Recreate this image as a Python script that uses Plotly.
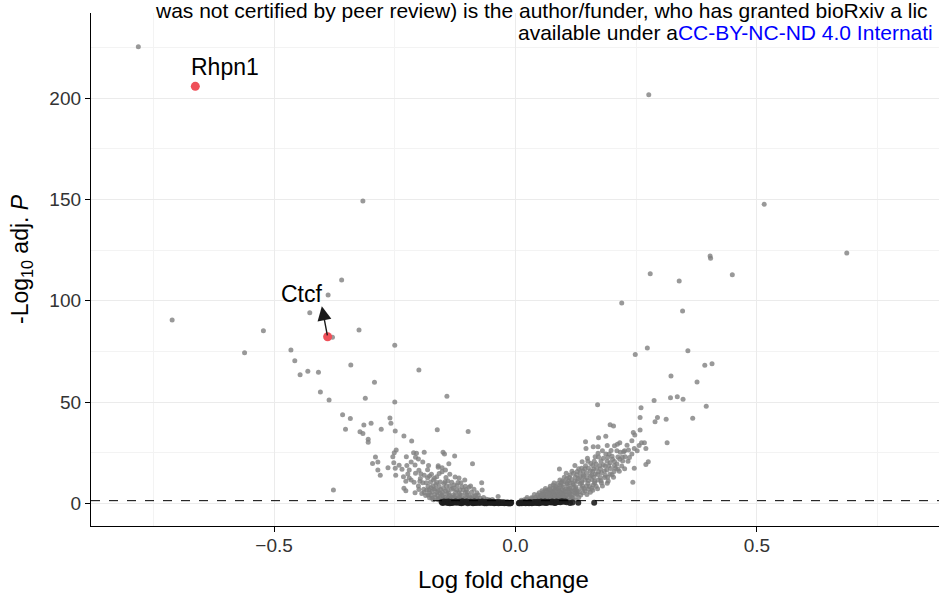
import plotly.graph_objects as go

# Significant genes (padj < 0.05): log fold change and -log10 adjusted P
lfc_sig = [
    -0.781, -0.316, -0.360, -0.388, -0.426, -0.711, -0.522, -0.324, -0.379, -0.250,
    -0.465, -0.561, -0.457, -0.341, -0.200, -0.430, -0.408, -0.446, -0.292, -0.404,
    -0.142, -0.311, -0.386, -0.250, -0.358, -0.260, -0.342, -0.258, -0.314, -0.299,
    -0.352, -0.278, -0.322, -0.316, -0.249, -0.162, -0.098, -0.305, -0.305, -0.231,
    -0.215, -0.247, -0.251, -0.211, -0.205, -0.189, -0.150, -0.147, -0.254, -0.226,
    -0.207, -0.201, -0.126, -0.290, -0.296, -0.285, -0.252, -0.216, -0.192, -0.138,
    -0.089, -0.264, -0.249, -0.285, -0.235, -0.160, -0.152, -0.280, -0.248, -0.232,
    -0.207, -0.189, -0.178, -0.163, -0.152, -0.125, -0.105, -0.070, -0.227, -0.216,
    -0.198, -0.185, -0.170, -0.156, -0.140, -0.231, -0.227, -0.208, -0.377, -0.190,
    -0.175, -0.166, -0.149, -0.129, -0.122, -0.108, -0.096, -0.069, -0.194, -0.181,
    -0.167, -0.156, -0.142, -0.129, -0.115, -0.101, -0.087, -0.073, -0.036, -0.173,
    -0.160, -0.136, -0.122, -0.108, -0.060, -0.184, -0.173, -0.160, -0.145, -0.136,
    -0.127, -0.111, -0.150, -0.133, -0.118, -0.095, -0.082, -0.145, -0.112, -0.165,
    -0.148, -0.119, -0.100, -0.090, -0.048,
    -0.170, -0.160, -0.151, -0.141, -0.132, -0.123, -0.114, -0.105, -0.097, -0.088,
    -0.078, -0.068, -0.055,
    -0.178, -0.167, -0.157, -0.146, -0.139, -0.127, -0.116, -0.103, -0.091, -0.080, -0.066,
    -0.186, -0.175, -0.161, -0.152, -0.137, -0.125, -0.111, -0.097, -0.083, -0.077,
    -0.189, -0.178, -0.163, -0.151, -0.138, -0.124, -0.117, -0.104, -0.091, -0.080,
    -0.200, -0.179, -0.169, -0.155, -0.140, -0.132, -0.115, -0.102, -0.086,
    -0.201, -0.181, -0.171, -0.158, -0.143, -0.121, -0.104, -0.093,
    -0.210, -0.192, -0.176, -0.163, -0.146, -0.132, -0.113,
    -0.220, -0.197, -0.182, -0.168, -0.144, -0.117,
    -0.223, -0.196, -0.174, -0.158, -0.136,
    -0.220, -0.200, -0.182, -0.145,
    -0.241, -0.225, -0.208, -0.180, -0.160,
    0.276, 0.515, 0.686, 0.403, 0.404, 0.279, 0.449, 0.339, 0.220, 0.346,
    0.273, 0.357, 0.248, 0.407, 0.392, 0.322, 0.376, 0.335, 0.321, 0.347,
    0.287, 0.170, 0.395, 0.260, 0.294, 0.258, 0.367, 0.312, 0.289, 0.258,
    0.196, 0.203, 0.244, 0.247, 0.172, 0.187, 0.261, 0.267, 0.314, 0.145,
    0.241, 0.211, 0.216, 0.161, 0.171, 0.146, 0.270, 0.234, 0.246, 0.217,
    0.224, 0.171, 0.187, 0.194, 0.241, 0.227, 0.149, 0.165, 0.182, 0.201,
    0.216, 0.156, 0.167, 0.196, 0.210, 0.275, 0.270, 0.123, 0.137, 0.151,
    0.168, 0.189, 0.207, 0.246, 0.091, 0.105, 0.120, 0.134, 0.147, 0.165,
    0.178, 0.196, 0.092, 0.106, 0.116, 0.130, 0.144, 0.158, 0.171, 0.243,
    0.078, 0.092, 0.106, 0.120, 0.134, 0.147, 0.161, 0.068, 0.082, 0.096,
    0.109, 0.123, 0.137, 0.151, 0.058, 0.071, 0.085, 0.099, 0.113, 0.127,
    0.047, 0.061, 0.075, 0.089, 0.102, 0.116, 0.040, 0.054, 0.068, 0.082,
    0.096, 0.030, 0.012, 0.100, 0.113, 0.128, 0.140, 0.155, 0.185, 0.064,
    0.077, 0.090, 0.104, 0.118, 0.132, 0.052, 0.066, 0.080, 0.094, 0.108,
    0.035, 0.022, 0.059, 0.073, 0.087, 0.104, 0.120, 0.099, 0.085, 0.175,
    0.182, 0.200, 0.210, 0.138, 0.155,
    0.018, 0.027, 0.036, 0.045, 0.053, 0.062, 0.071, 0.079, 0.088, 0.097, 0.106, 0.115, 0.124,
    0.024, 0.033, 0.041, 0.050, 0.058, 0.067, 0.076, 0.084, 0.093, 0.101, 0.110, 0.119, 0.131,
    0.039, 0.046, 0.055, 0.063, 0.072, 0.081, 0.089, 0.098, 0.106, 0.117, 0.126, 0.135, 0.148,
    0.049, 0.057, 0.069, 0.078, 0.087, 0.095, 0.111, 0.123, 0.140, 0.155,
    0.055, 0.063, 0.073, 0.080, 0.091, 0.101, 0.114, 0.128, 0.144, 0.160,
    0.062, 0.071, 0.079, 0.089, 0.104, 0.112, 0.126, 0.142, 0.158, 0.170,
    0.072, 0.083, 0.095, 0.110, 0.125, 0.139, 0.153, 0.167, 0.180,
    0.080, 0.088, 0.095, 0.107, 0.119, 0.137, 0.150, 0.164, 0.178, 0.190,
    0.097, 0.110, 0.123, 0.137, 0.151, 0.164, 0.177, 0.192,
    0.101, 0.111, 0.124, 0.134, 0.148, 0.162, 0.176, 0.191, 0.203,
    0.113, 0.127, 0.141, 0.158, 0.170, 0.186, 0.200,
    0.117, 0.128, 0.140, 0.160, 0.172, 0.184, 0.204, 0.215,
    0.131, 0.144, 0.162, 0.176, 0.197, 0.212, 0.226,
    0.145, 0.160, 0.186, 0.193, 0.205, 0.220,
    0.150, 0.163, 0.177, 0.190, 0.205, 0.222, 0.233,
    0.172, 0.191, 0.212, 0.221, 0.236,
    0.180, 0.198, 0.226, 0.252,
    0.190, 0.205, 0.231, 0.256,
]
padj_sig = [
    225.4, 149.2, 110.2, 102.8, 94.1, 90.5, 85.2, 85.5, 81.9, 78.0,
    75.7, 74.3, 70.4, 68.3, 65.8, 65.2, 64.7, 63.5, 59.7, 54.9,
    52.8, 51.8, 51.0, 50.0, 43.7, 42.1, 41.8, 39.5, 38.6, 39.5,
    36.5, 36.5, 35.3, 34.5, 35.7, 36.3, 35.5, 31.6, 30.1, 33.2,
    30.8, 26.3, 25.0, 25.0, 24.7, 25.2, 25.2, 24.3, 23.0, 23.0,
    22.7, 21.9, 23.3, 22.9, 19.7, 20.4, 20.0, 20.4, 20.4, 19.5,
    19.5, 17.6, 17.3, 16.4, 16.8, 17.8, 17.6, 13.8, 13.8, 13.1,
    14.8, 13.8, 13.5, 13.1, 15.6, 13.0, 11.5, 10.2, 10.9, 11.5,
    10.9, 10.2, 11.5, 10.5, 11.0, 7.4, 6.2, 5.2, 6.6, 6.9,
    7.7, 7.2, 7.4, 7.4, 6.6, 6.6, 7.9, 6.6, 4.9, 4.1,
    4.4, 4.9, 4.6, 4.1, 4.4, 4.1, 3.6, 2.5, 3.3, 2.5,
    2.3, 2.3, 2.3, 2.1, 2.0, 6.6, 5.7, 6.2, 6.1, 8.5,
    9.0, 8.2, 3.2, 3.0, 3.1, 2.8, 1.9, 1.8, 1.7, 9.3,
    9.8, 10.3, 5.6, 1.6, 1.9,
    1.8, 1.7, 1.9, 1.8, 1.6, 1.9, 1.7, 1.8, 1.9, 1.7,
    1.8, 1.6, 1.7,
    2.8, 2.9, 2.7, 2.9, 2.8, 3.0, 2.7, 2.9, 2.8, 2.6, 2.9,
    3.9, 4.0, 3.8, 4.1, 3.9, 3.7, 4.0, 3.9, 3.8, 4.1,
    5.3, 5.2, 5.4, 5.3, 5.1, 5.4, 5.2, 5.3, 5.5, 5.2,
    6.8, 6.7, 6.9, 6.8, 6.6, 6.9, 6.7, 6.8, 6.9,
    8.5, 8.4, 8.6, 8.3, 8.5, 8.7, 8.4, 8.6,
    10.4, 10.2, 10.5, 10.3, 10.6, 10.4, 10.2,
    12.5, 12.3, 12.6, 12.4, 12.7, 12.5,
    14.5, 14.6, 14.3, 14.7, 14.4,
    16.5, 16.3, 16.6, 16.4,
    18.8, 18.6, 18.9, 18.7, 18.5,
    201.7, 147.6, 123.5, 122.1, 120.9, 113.3, 112.8, 109.7, 98.9, 94.9,
    76.7, 75.3, 73.5, 68.9, 68.1, 62.8, 59.9, 52.6, 52.1, 51.3,
    50.8, 48.7, 47.9, 47.2, 42.4, 42.3, 42.0, 41.5, 40.3, 36.2,
    38.8, 38.2, 34.9, 33.7, 32.4, 33.1, 29.9, 29.9, 29.9, 30.4,
    30.9, 29.1, 29.9, 27.9, 27.9, 27.1, 27.0, 26.3, 27.0, 25.2,
    25.5, 24.7, 24.3, 24.3, 24.3, 23.0, 22.2, 23.0, 22.2, 21.7,
    21.7, 19.7, 19.4, 20.0, 19.4, 20.5, 19.2, 18.6, 17.3, 17.3,
    17.3, 16.4, 17.3, 17.3, 16.9, 14.8, 14.8, 15.1, 14.8, 14.5,
    15.1, 14.5, 11.5, 12.3, 11.8, 12.3, 11.5, 11.8, 11.5, 10.4,
    9.0, 9.0, 9.5, 9.0, 9.5, 8.5, 9.0, 6.6, 6.9, 6.6,
    6.9, 6.6, 7.4, 6.9, 4.6, 4.9, 4.6, 4.9, 4.6, 4.9,
    3.0, 3.3, 3.0, 3.3, 3.0, 3.0, 2.1, 2.1, 2.0, 2.0,
    2.1, 1.6, 1.5, 10.6, 10.1, 10.8, 13.2, 13.6, 12.7, 5.8,
    5.5, 5.9, 5.7, 5.9, 5.7, 3.9, 4.0, 3.9, 4.0, 4.1,
    2.6, 1.9, 2.6, 2.6, 2.7, 2.4, 7.8, 8.0, 7.8, 18.7,
    19.0, 23.2, 25.9, 20.5, 16.0,
    1.8, 1.7, 1.9, 1.8, 1.6, 1.9, 1.7, 1.8, 1.9, 1.7, 1.8, 1.9, 1.7,
    2.9, 2.8, 3.0, 2.9, 2.7, 3.0, 2.8, 2.9, 3.0, 2.8, 2.9, 2.7, 2.9,
    4.3, 4.2, 4.4, 4.3, 4.1, 4.4, 4.2, 4.3, 4.4, 4.2, 4.3, 4.1, 4.4,
    5.2, 5.3, 5.1, 5.2, 5.4, 5.2, 5.3, 5.1, 5.2, 5.4,
    6.2, 6.3, 6.1, 6.2, 6.4, 6.2, 6.3, 6.1, 6.2, 6.4,
    7.3, 7.2, 7.4, 7.3, 7.1, 7.4, 7.2, 7.3, 7.4, 7.2,
    8.4, 8.3, 8.5, 8.4, 8.2, 8.5, 8.3, 8.4, 8.5,
    10.0, 9.9, 10.1, 10.0, 9.8, 10.1, 9.9, 10.0, 10.1, 9.9,
    11.0, 11.1, 10.9, 11.0, 11.2, 10.9, 11.1, 11.0,
    12.8, 12.7, 12.9, 12.8, 12.6, 12.9, 12.7, 12.8, 12.9,
    14.0, 14.1, 13.9, 14.0, 14.2, 13.9, 14.1,
    15.8, 15.7, 15.9, 15.8, 15.6, 15.9, 15.7, 15.8,
    17.0, 17.1, 16.9, 17.0, 17.2, 16.9, 17.1,
    18.5, 18.6, 18.4, 18.5, 18.7, 18.4,
    20.8, 20.7, 20.9, 20.8, 20.6, 20.9, 20.7,
    22.8, 22.7, 22.9, 22.8, 22.6,
    26.0, 26.1, 25.9, 26.0,
    28.5, 28.4, 28.6, 28.5,
]

# Non-significant genes
lfc_ns = [
    -0.153, -0.149, -0.146, -0.141, -0.138, -0.134, -0.131, -0.127, -0.122, -0.119,
    -0.115, -0.111, -0.108, -0.103, -0.099, -0.096, -0.091, -0.087, -0.084, -0.079,
    -0.075, -0.072, -0.067, -0.063, -0.060, -0.055, -0.051, -0.047, -0.043, -0.040,
    -0.035, -0.031, -0.027, -0.023, -0.019, -0.016, -0.013, -0.011, -0.010,
    -0.151, -0.143, -0.136, -0.129, -0.118, -0.112, -0.105, -0.094, -0.088, -0.081,
    -0.070, -0.064, -0.058, -0.049, -0.044, -0.037, -0.029, -0.021, -0.014, -0.012,
    -0.148, -0.139, -0.133, -0.124, -0.116, -0.110, -0.101, -0.093, -0.085, -0.077,
    -0.069, -0.061, -0.053, -0.045, -0.038, -0.033, -0.025, -0.017, -0.009,
    0.007, 0.009, 0.013, 0.017, 0.021, 0.024, 0.028, 0.032, 0.036, 0.040,
    0.044, 0.047, 0.051, 0.055, 0.059, 0.062, 0.066, 0.070, 0.074, 0.078,
    0.083, 0.088, 0.093, 0.099, 0.106, 0.130, 0.163,
    0.008, 0.015, 0.026, 0.034, 0.042, 0.049, 0.057, 0.064, 0.072, 0.081, 0.091,
    0.011, 0.019, 0.030, 0.038, 0.046, 0.053, 0.061, 0.068, 0.076, 0.085, 0.096, 0.103,
    0.113, 0.118,
]
padj_ns = [
    0.62, 0.35, 0.48, 0.20, 0.55, 0.31, 0.12, 0.44, 0.27, 0.58,
    0.15, 0.39, 0.22, 0.50, 0.09, 0.33, 0.46, 0.18, 0.28, 0.53,
    0.11, 0.37, 0.24, 0.41, 0.07, 0.30, 0.19, 0.36, 0.13, 0.26,
    0.08, 0.21, 0.15, 0.06, 0.12, 0.04, 0.09, 0.03, 0.05,
    0.15, 0.72, 0.05, 0.66, 0.70, 0.08, 0.61, 0.64, 0.04, 0.12,
    0.57, 0.03, 0.49, 0.54, 0.02, 0.40, 0.34, 0.29, 0.02, 0.10,
    0.95, 0.88, 0.82, 0.91, 0.78, 0.99, 0.85, 0.76, 0.93, 0.80,
    0.89, 0.74, 0.86, 0.79, 0.70, 0.65, 0.58, 0.45, 0.38,
    0.04, 0.08, 0.03, 0.11, 0.06, 0.15, 0.09, 0.21, 0.13, 0.27,
    0.18, 0.33, 0.24, 0.40, 0.29, 0.46, 0.35, 0.52, 0.42, 0.58,
    0.31, 0.66, 0.47, 0.71, 0.55, 0.25, 0.22,
    0.30, 0.38, 0.45, 0.05, 0.50, 0.09, 0.60, 0.14, 0.68, 0.19, 0.74,
    0.35, 0.55, 0.62, 0.70, 0.78, 0.84, 0.90, 0.80, 0.93, 0.86, 0.97, 0.88,
    0.15, 0.40,
]

# Highlighted genes
genes = ["Rhpn1", "Ctcf"]
lfc_lab = [-0.663, -0.389]
padj_lab = [205.8, 82.2]

padj_cutoff = 1.301  # -log10(0.05)

x_ticks = [-0.5, 0.0, 0.5]
y_ticks = [0, 50, 100, 150, 200]

FONT = "Liberation Sans, Arial, Helvetica, sans-serif"

# panel placement in pixels
W, H = 939, 597
L, B, T = 91, 71, 13
PW, PH = W - L, H - B - T


def px_x(p):
    return (p - L) / PW


def px_y(p):
    return (H - B - p) / PH


fig = go.Figure()

fig.add_trace(go.Scatter(
    x=lfc_sig, y=padj_sig, mode="markers",
    marker=dict(size=5, color="rgba(128,128,128,0.8)", line=dict(width=0)),
    hoverinfo="skip", showlegend=False,
))
fig.add_trace(go.Scatter(
    x=lfc_ns, y=padj_ns, mode="markers",
    marker=dict(size=6, color="rgba(30,30,30,0.9)", line=dict(width=0)),
    hoverinfo="skip", showlegend=False,
))
fig.add_trace(go.Scatter(
    x=lfc_lab, y=padj_lab, mode="markers",
    marker=dict(size=9, color="#ef5059", line=dict(width=0)),
    text=genes, hoverinfo="text", showlegend=False,
))

# significance threshold
fig.add_hline(y=padj_cutoff, line=dict(color="black", width=1, dash="dash"))

# gene labels
fig.add_annotation(x=-0.602, y=215.4, text=genes[0], showarrow=False,
                   font=dict(family=FONT, size=23, color="black"))
fig.add_annotation(x=-0.443, y=103.3, text=genes[1], showarrow=False,
                   font=dict(family=FONT, size=23, color="black"))
fig.add_annotation(x=-0.401, y=97.2, ax=lfc_lab[1], ay=padj_lab[1],
                   xref="x", yref="y", axref="x", ayref="y",
                   text="", showarrow=True, arrowhead=2, arrowsize=2.0,
                   arrowwidth=1.4, arrowcolor="#1a1a1a", standoff=0)

# preprint header lines
fig.add_annotation(xref="paper", yref="paper", x=px_x(153), y=px_y(10),
                   xanchor="left", yanchor="middle", showarrow=False,
                   text="was not certified by peer review) is the author/funder, who has granted bioRxiv a lic",
                   font=dict(family=FONT, size=21, color="black"))
fig.add_annotation(xref="paper", yref="paper", x=px_x(516), y=px_y(32),
                   xanchor="left", yanchor="middle", showarrow=False,
                   text="available under a<span style='color:blue'>CC-BY-NC-ND 4.0 Internati</span>",
                   font=dict(family=FONT, size=21, color="black"))

# axis titles
fig.add_annotation(xref="paper", yref="paper", x=px_x(503), y=px_y(580),
                   xanchor="center", yanchor="middle", showarrow=False,
                   text="Log fold change",
                   font=dict(family=FONT, size=24, color="black"))
fig.add_annotation(xref="paper", yref="paper", x=px_x(21), y=px_y(259),
                   xanchor="center", yanchor="middle", showarrow=False,
                   textangle=-90, text="-Log<sub>10</sub> adj. <i>P</i>",
                   font=dict(family=FONT, size=23, color="black"))

axis_common = dict(
    showline=True, linecolor="black", linewidth=1.3,
    ticks="outside", ticklen=5, tickwidth=1.2, tickcolor="black",
    showgrid=True, gridcolor="#ebebeb", gridwidth=1.4,
    zeroline=False, automargin=False,
    tickfont=dict(family=FONT, size=19, color="#333333"),
)

fig.update_xaxes(
    **axis_common,
    range=[-0.879, 0.877], tickvals=x_ticks, tickformat=".1f",
    ticklabelstandoff=-3,
    minor=dict(tickvals=[-0.75, -0.25, 0.25, 0.75], showgrid=True,
               gridcolor="#f3f3f3", gridwidth=0.8),
)
fig.update_yaxes(
    **axis_common,
    range=[-11.2, 242.0], tickvals=y_ticks,
    minor=dict(tickvals=[25, 75, 125, 175, 225], showgrid=True,
               gridcolor="#f3f3f3", gridwidth=0.8),
)

fig.update_layout(
    width=W, height=H,
    margin=dict(l=L, r=0, t=T, b=B, pad=0),
    paper_bgcolor="white", plot_bgcolor="white",
    font=dict(family=FONT),
)

fig.write_html("out.html")
